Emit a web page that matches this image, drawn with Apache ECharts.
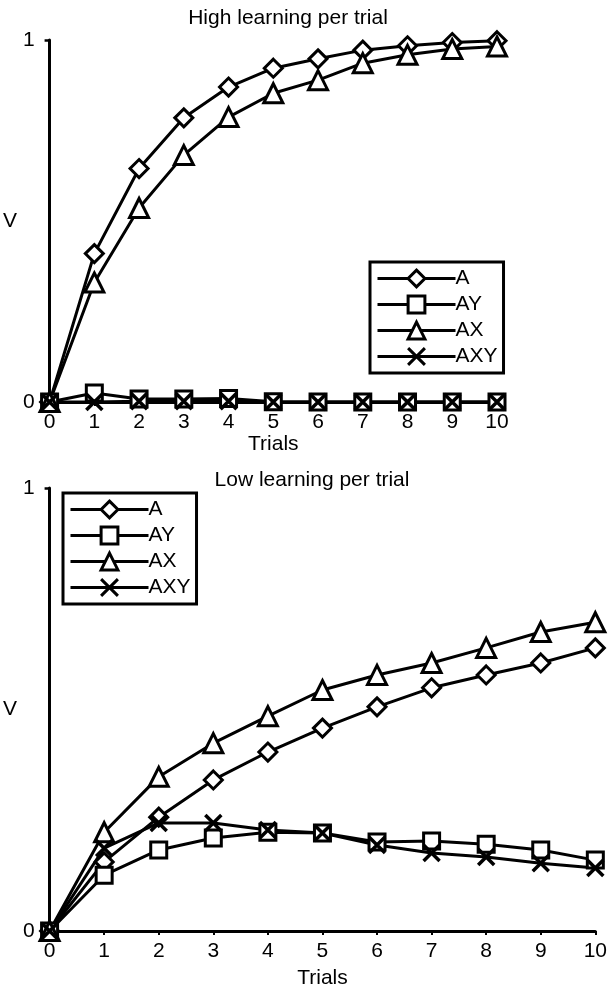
<!DOCTYPE html>
<html>
<head>
<meta charset="utf-8">
<script src="https://cdn.jsdelivr.net/npm/echarts@6/dist/echarts.min.js"></script>
<style>
html,body{margin:0;padding:0;background:#fff;}
#chart{width:610px;height:991px;}
</style>
</head>
<body>
<div id="chart"></div>
<script>
const trials = [0, 1, 2, 3, 4, 5, 6, 7, 8, 9, 10];
const seriesNames = ['A', 'AY', 'AX', 'AXY'];
const yTicks = [0, 1];

const highA   = [0, 0.41, 0.645, 0.785, 0.87, 0.922, 0.948, 0.972, 0.984, 0.993, 0.998];
const highAY  = [0, 0.025, 0.008, 0.008, 0.01, 0.001, 0, 0, 0, 0, 0];
const highAX  = [0, 0.33, 0.536, 0.682, 0.787, 0.853, 0.889, 0.936, 0.959, 0.975, 0.982];
const highAXY = [0, 0, 0.002, 0.002, 0.002, 0, 0, 0, 0, 0, 0];

const lowA   = [0, 0.156, 0.257, 0.341, 0.404, 0.458, 0.506, 0.549, 0.578, 0.605, 0.639];
const lowAY  = [0, 0.126, 0.183, 0.21, 0.223, 0.221, 0.201, 0.203, 0.196, 0.183, 0.16];
const lowAX  = [0, 0.223, 0.348, 0.424, 0.485, 0.544, 0.578, 0.605, 0.639, 0.675, 0.697];
const lowAXY = [0, 0.187, 0.244, 0.244, 0.228, 0.221, 0.194, 0.176, 0.167, 0.153, 0.142];

const FONT = "'Liberation Sans', Arial, Helvetica, sans-serif";
const X_PATH = 'path://M0,0L10,10M10,0L0,10';
const symbols = {A: 'diamond', AY: 'rect', AX: 'triangle', AXY: X_PATH};
const sizes = {A: 18, AY: 16, AX: 19, AXY: 16};

function pairs(vals) { return trials.map((t, i) => [t, vals[i]]); }

function mkSeries(name, vals, gi) {
  return {
    name: name, type: 'line', xAxisIndex: gi, yAxisIndex: gi,
    data: pairs(vals),
    symbol: symbols[name], symbolSize: sizes[name],
    showAllSymbol: true,
    lineStyle: {color: '#000', width: 3},
    itemStyle: {color: '#fff', borderColor: '#000', borderWidth: name === 'AXY' ? 3.5 : 3},
    emphasis: {disabled: true},
    animation: false
  };
}

function mkX(gi, nameGap) {
  return {
    type: 'value', gridIndex: gi, min: 0, max: 10, interval: 1,
    name: 'Trials', nameLocation: 'middle', nameGap: nameGap,
    nameTextStyle: {fontFamily: FONT, fontSize: 21, color: '#000'},
    axisLine: {show: true, onZero: false, lineStyle: {color: '#000', width: 3}},
    axisTick: {show: true, length: 4, lineStyle: {color: '#000', width: 2}},
    axisLabel: {fontFamily: FONT, fontSize: 21, color: '#000', margin: 10},
    splitLine: {show: false}
  };
}
function mkY(gi) {
  return {
    type: 'value', gridIndex: gi, min: yTicks[0], max: yTicks[1], interval: 1,
    name: 'V', nameLocation: 'middle', nameGap: 23, nameRotate: 0,
    nameTextStyle: {fontFamily: FONT, fontSize: 21, color: '#000'},
    axisLine: {show: true, onZero: false, lineStyle: {color: '#000', width: 3}},
    axisTick: {show: true, length: 5, lineStyle: {color: '#000', width: 2.5}},
    axisLabel: {fontFamily: FONT, fontSize: 21, color: '#000', margin: 15},
    splitLine: {show: false}
  };
}
function mkLegend(left, top) {
  return {
    left: left, top: top, orient: 'vertical',
    itemWidth: 78, itemHeight: 21, itemGap: 5,
    padding: [6, 6, 6, 6],
    borderColor: '#000', borderWidth: 3, backgroundColor: '#fff',
    selectedMode: false,
    data: seriesNames,
    lineStyle: {width: 3, color: '#000'},
    itemStyle: {borderWidth: 3, borderColor: '#000', color: '#fff'},
    textStyle: {fontFamily: FONT, fontSize: 21, color: '#000', padding: [0, 0, 0, -5]}
  };
}

const chart = echarts.init(document.getElementById('chart'), null, {renderer: 'canvas'});
chart.setOption({
  animation: false,
  backgroundColor: '#fff',
  grid: [
    {left: 43, top: 40, width: 454, height: 362},
    {left: 43, top: 488, width: 554, height: 443}
  ],
  xAxis: [mkX(0, 32), mkX(1, 37)],
  yAxis: [mkY(0), mkY(1)],
  legend: [mkLegend(370, 262), mkLegend(63, 493)],
  graphic: [
    {type: 'text', x: 288, y: 18, style: {text: 'High learning per trial', font: '21px ' + FONT, fill: '#000', textAlign: 'center', textVerticalAlign: 'middle'}},
    {type: 'text', x: 312, y: 480, style: {text: 'Low learning per trial', font: '21px ' + FONT, fill: '#000', textAlign: 'center', textVerticalAlign: 'middle'}}
  ],
  series: [
    mkSeries('A', highA, 0), mkSeries('AY', highAY, 0), mkSeries('AX', highAX, 0), mkSeries('AXY', highAXY, 0),
    mkSeries('A', lowA, 1), mkSeries('AY', lowAY, 1), mkSeries('AX', lowAX, 1), mkSeries('AXY', lowAXY, 1)
  ]
});
</script>
</body>
</html>
